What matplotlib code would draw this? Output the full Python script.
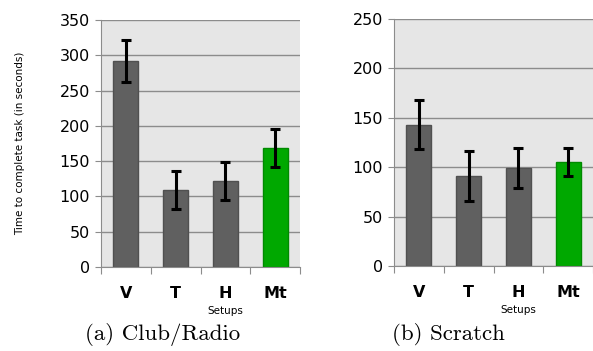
import matplotlib
matplotlib.use('Agg')
import matplotlib.pyplot as plt
import numpy as np

setups = ['V', 'T', 'H', 'Mt']

club_mean = [292, 109, 122, 168]
club_err = [30, 27, 27, 27]

scratch_mean = [143, 91, 99, 105]
scratch_err = [25, 25, 20, 14]

bar_colors = ['#606060', '#606060', '#606060', '#00a800']
edge_colors = ['#505050', '#505050', '#505050', '#008a00']

fig = plt.figure(figsize=(5.93, 3.51), dpi=100)
ax1 = fig.add_axes([101 / 593, 1 - 267 / 351, 199 / 593, 247 / 351])
ax2 = fig.add_axes([394 / 593, 1 - 266 / 351, 199 / 593, 247 / 351])


def draw_panel(ax, means, errs, ymax, step):
    x = np.arange(len(setups))
    ax.set_facecolor('#e6e6e6')
    ax.set_axisbelow(True)
    ax.yaxis.grid(True, color='#8c8c8c', linewidth=1)
    ax.bar(x, means, width=0.5, color=bar_colors, edgecolor=edge_colors, linewidth=1)
    ax.errorbar(x, means, yerr=errs, fmt='none', ecolor='black', elinewidth=2.2,
                capsize=3.8, capthick=2.2)
    ax.set_xlim(-0.5, len(setups) - 0.5)
    ax.set_ylim(0, ymax)
    ax.set_yticks(np.arange(0, ymax + 1, step))
    ax.tick_params(axis='y', labelsize=11.5, length=4, color='#8c8c8c', pad=4)
    # ticks sit between categories, labels at centres
    ax.set_xticks(np.arange(len(setups) + 1) - 0.5)
    ax.set_xticklabels([])
    ax.set_xticks(x, minor=True)
    ax.set_xticklabels(setups, minor=True, fontsize=11.5, fontweight='bold')
    ax.tick_params(axis='x', which='major', length=5, color='#8c8c8c')
    ax.tick_params(axis='x', which='minor', length=0, pad=14)
    for s in ['top', 'right']:
        ax.spines[s].set_visible(False)
    for s in ['left', 'bottom']:
        ax.spines[s].set_color('#8c8c8c')
    ax.text(2, -0.18 * ymax, 'Setups', ha='center', va='center', fontsize=7.5,
            transform=ax.transData, clip_on=False)


draw_panel(ax1, club_mean, club_err, 350, 50)
draw_panel(ax2, scratch_mean, scratch_err, 250, 50)

ax1.set_ylabel('Time to complete task (in seconds)', fontsize=7.5, labelpad=25)

fig.text(163 / 593, 1 - 334 / 351, '(a) Club/Radio', ha='center', va='center',
         fontsize=16.5, family='cmr10')
fig.text(448 / 593, 1 - 334 / 351, '(b) Scratch', ha='center', va='center',
         fontsize=16.5, family='cmr10')

fig.savefig('out.png', dpi=100)
